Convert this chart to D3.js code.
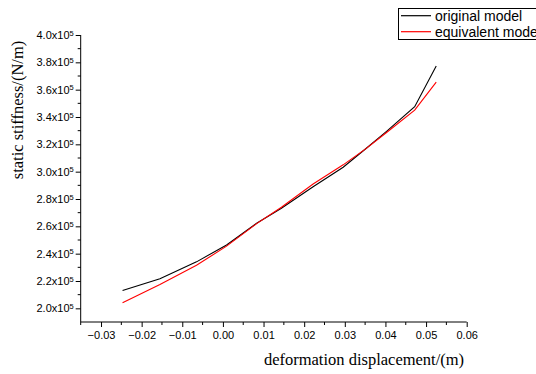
<!DOCTYPE html>
<html>
<head>
<meta charset="utf-8">
<script src="https://cdn.jsdelivr.net/npm/d3@7"></script>
<style>
  body { margin: 0; background: #fff; }
  .tick text { font-family: "Liberation Sans", Arial, sans-serif; font-size: 11px; }
  .axisTitle { font-family: "Liberation Serif", "Times New Roman", serif; font-size: 16.5px; }
  .legend text { font-family: "Liberation Sans", Arial, sans-serif; font-size: 14px; }
</style>
</head>
<body>
<div id="chart"></div>
<script>
// deformation displacement (m)
var displacement = [-0.0247, -0.0155, -0.0065, 0.0009, 0.0083, 0.0144, 0.0222, 0.0296, 0.0353, 0.0402, 0.0472, 0.0525];
// static stiffness (x10^5 N/m)
var originalModel = [2.13, 2.217, 2.34, 2.464, 2.622, 2.732, 2.89, 3.032, 3.171, 3.293, 3.475, 3.773];
var equivalentModel = [2.04, 2.175, 2.315, 2.455, 2.62, 2.74, 2.91, 3.05, 3.17, 3.285, 3.45, 3.655];

var xTicks = [-0.03, -0.02, -0.01, 0.00, 0.01, 0.02, 0.03, 0.04, 0.05, 0.06];
var xMinor = [-0.035, -0.025, -0.015, -0.005, 0.005, 0.015, 0.025, 0.035, 0.045, 0.055];
var yTicks = [2.0, 2.2, 2.4, 2.6, 2.8, 3.0, 3.2, 3.4, 3.6, 3.8, 4.0];
var yMinor = [2.1, 2.3, 2.5, 2.7, 2.9, 3.1, 3.3, 3.5, 3.7, 3.9];

var legendLabels = ["original model", "equivalent model"];
var legendColors = ["#000000", "#ff0000"];

var width = 536, height = 374;
var margin = { top: 35, right: 69.3, bottom: 52, left: 80.7 };

var svg = d3.select("#chart").append("svg")
  .attr("width", width)
  .attr("height", height);

var x = d3.scaleLinear().domain([-0.035, 0.06]).range([margin.left, width - margin.right]);
var y = d3.scaleLinear().domain([1.9, 4.0]).range([height - margin.bottom, margin.top]);

// x axis
var xAxis = svg.append("g")
  .attr("transform", "translate(0," + (height - margin.bottom) + ")")
  .call(d3.axisBottom(x).tickValues(xTicks).tickSize(5).tickPadding(4)
    .tickFormat(function (d) { return d3.format(".2f")(d); }));
xAxis.select(".domain").attr("d", "M" + x(-0.035) + ",0H" + x(0.06));

svg.append("g")
  .attr("transform", "translate(0," + (height - margin.bottom) + ")")
  .selectAll("line")
  .data(xMinor)
  .enter().append("line")
  .attr("x1", function (d) { return x(d); })
  .attr("x2", function (d) { return x(d); })
  .attr("y1", 0)
  .attr("y2", 3)
  .attr("stroke", "#000");

// y axis
var yAxis = svg.append("g")
  .attr("transform", "translate(" + margin.left + ",0)")
  .call(d3.axisLeft(y).tickValues(yTicks).tickSize(5).tickPadding(2)
    .tickFormat(function () { return ""; }));
yAxis.select(".domain").attr("d", "M0," + y(4.0) + "V" + y(1.9));

yAxis.selectAll(".tick text").each(function (d) {
  var t = d3.select(this);
  t.text(d.toFixed(1) + "x10");
  t.append("tspan")
    .attr("dy", "-0.45em")
    .style("font-size", "7.5px")
    .text("5");
});

svg.append("g")
  .attr("transform", "translate(" + margin.left + ",0)")
  .selectAll("line")
  .data(yMinor)
  .enter().append("line")
  .attr("y1", function (d) { return y(d); })
  .attr("y2", function (d) { return y(d); })
  .attr("x1", 0)
  .attr("x2", -3)
  .attr("stroke", "#000");

// axis titles
svg.append("text")
  .attr("class", "axisTitle")
  .attr("transform", "translate(23,110) rotate(-90)")
  .style("text-anchor", "middle")
  .text("static stiffness/(N/m)");

svg.append("text")
  .attr("class", "axisTitle")
  .attr("x", 364)
  .attr("y", 365)
  .style("text-anchor", "middle")
  .text("deformation displacement/(m)");

// lines
var line = d3.line()
  .x(function (d) { return x(d[0]); })
  .y(function (d) { return y(d[1]); });

var series = [originalModel, equivalentModel];
series.forEach(function (vals, i) {
  svg.append("path")
    .datum(displacement.map(function (dx, j) { return [dx, vals[j]]; }))
    .attr("fill", "none")
    .attr("stroke", legendColors[i])
    .attr("stroke-width", 1.1)
    .attr("d", line);
});

// legend
var legend = svg.append("g")
  .attr("class", "legend")
  .attr("transform", "translate(398.5,8.5)");

legend.append("rect")
  .attr("width", 150)
  .attr("height", 31)
  .attr("fill", "#fff")
  .attr("stroke", "#000");

var legendGroups = legend.selectAll("g")
  .data(legendLabels)
  .enter().append("g")
  .attr("transform", function (d, i) { return "translate(0," + (7.2 + i * 16) + ")"; });

legendGroups.append("line")
  .attr("x1", 2.5)
  .attr("x2", 32.5)
  .attr("stroke", function (d, i) { return legendColors[i]; })
  .attr("stroke-width", 1.2);

legendGroups.append("text")
  .attr("x", 36.5)
  .attr("y", 5)
  .text(function (d) { return d; });
</script>
</body>
</html>
